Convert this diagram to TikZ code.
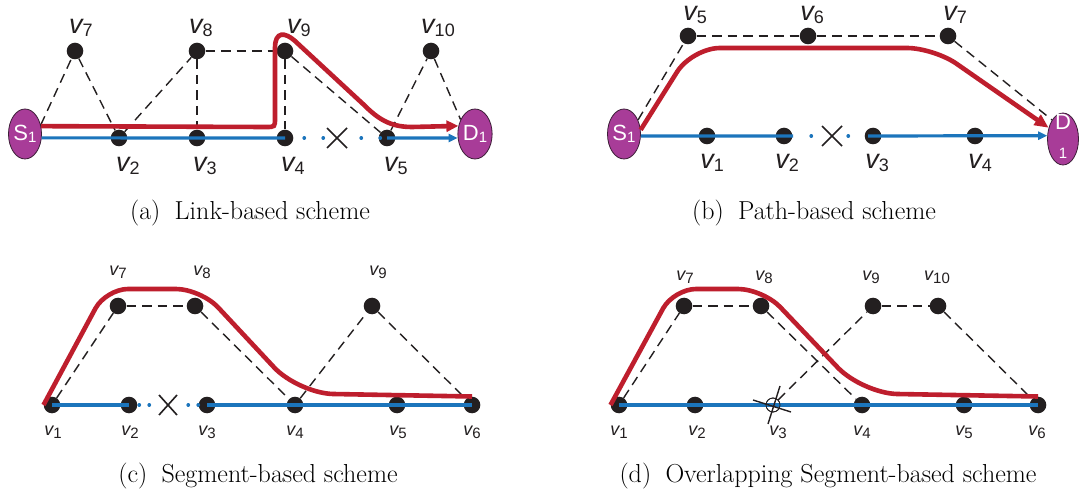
\documentclass[tikz,border=0pt]{standalone}
\usepackage{fontspec}
\newfontfamily\arialf{Liberation Sans}
\usetikzlibrary{arrows.meta,shapes.geometric}
\definecolor{pathred}{RGB}{190,30,45}
\definecolor{pathblue}{RGB}{28,117,188}
\definecolor{nodeblk}{RGB}{35,31,32}
\definecolor{epurple}{RGB}{168,60,152}
\definecolor{eborder}{RGB}{60,30,55}
\newcommand{\vA}[1]{{\fontsize{27}{27}\selectfont\itshape v}\raisebox{-2.7pt}{\fontsize{18}{18}\selectfont #1}}
\newcommand{\vC}[1]{{\fontsize{18}{18}\selectfont\itshape v}\raisebox{-3pt}{\fontsize{15}{15}\selectfont #1}}
\newcommand{\sdA}[2]{{\fontsize{22}{22}\selectfont #1}\raisebox{-1.7pt}{\fontsize{15}{15}\selectfont #2}}
\begin{document}
\begin{tikzpicture}[x=1pt,y=-1pt,
  vdot/.style={circle, fill=nodeblk, inner sep=0pt, minimum size=16.6pt},
  hollow/.style={circle, draw=nodeblk, line width=0.8pt, inner sep=0pt, minimum size=14pt},
  ell/.style={ellipse, draw=eborder, line width=0.8pt, fill=epurple, inner sep=0pt,
    minimum width=33pt, minimum height=50pt, text=white, font=\arialf},
  wtxt/.style={inner sep=0pt, text=white, font=\arialf},
  vlab/.style={inner sep=0pt, font=\arialf, text=nodeblk},
  dashedge/.style={nodeblk, line width=1.4pt, dash pattern=on 9.5pt off 6pt},
  redpath/.style={pathred, line width=4.6pt},
  bluepath/.style={pathblue, line width=3.2pt},
  bluedots/.style={pathblue, line width=3.2pt, line cap=round},
  xmk/.style={nodeblk, line width=1.6pt},
  captxt/.style={anchor=base, inner sep=0pt, font=\fontsize{26}{31}\selectfont},
  redtip/.style={-{Triangle[length=12pt,width=11pt]}},
  bluetip/.style={-{Triangle[length=9pt,width=8pt]}}
]
\fill[white] (0,0) rectangle (1079,494);
\useasboundingbox (0,0) rectangle (1079,494);

% ================= (a) =================
\node[ell] (S1a) at (25,134) {\sdA{S}{1}};
\node[ell] (D1a) at (475,134) {\sdA{D}{1}};
\node[vdot] (a2) at (119,138) {};
\node[vdot] (a3) at (197,138) {};
\node[vdot] (a4) at (285,138) {};
\node[vdot] (a5) at (387,138) {};
\node[vdot] (a7) at (75,51) {};
\node[vdot] (a8) at (197,51) {};
\node[vdot] (a9) at (285,51) {};
\node[vdot] (a10) at (431,51) {};
\node[vlab] (la7) at (81,28) {\vA{7}};
\node[vlab] (la8) at (201,28) {\vA{8}};
\node[vlab] (la9) at (299,28) {\vA{9}};
\node[vlab] (la10) at (438,28) {\vA{10}};
\node[vlab] (la2) at (128,166) {\vA{2}};
\node[vlab] (la3) at (205,166) {\vA{3}};
\node[vlab] (la4) at (293,166) {\vA{4}};
\node[vlab] (la5) at (396,166) {\vA{5}};
\coordinate (Xa) at (337,138);
\draw[dashedge] (S1a.30) -- (a7);
\draw[dashedge] (a7) -- (a2);
\draw[dashedge] (a2) -- (a8);
\draw[dashedge] (a8) -- (a3);
\draw[dashedge] (a8) -- (a9);
\draw[dashedge] (a9) -- (a4);
\draw[dashedge] (a9) -- (a5);
\draw[dashedge] (a5) -- (a10);
\draw[dashedge] (a10) -- (D1a.135);
\draw[bluepath] (S1a.-13) -- (a4.center);
\draw[bluedots, dash pattern=on 0.5pt off 18.5pt] ([xshift=19pt]a4.center) -- ([xshift=-10pt]Xa);
\draw[bluedots, dash pattern=on 0.5pt off 18.5pt] ([xshift=24pt]Xa) -- (a5.center);
\draw[bluepath, bluetip] (a5.center) -- (D1a.193);
\draw[xmk] ([shift={(-10,-10)}]Xa) -- ([shift={(10,10)}]Xa);
\draw[xmk] ([shift={(-10,10)}]Xa) -- ([shift={(10,-10)}]Xa);
\draw[redpath, redtip] (S1a.26) -- (266,127) .. controls (275,127) .. (275,118) -- (275,48)
  .. controls (275,31) and (285,32) .. (295,41)
  -- (363,104)
  .. controls (378,119) and (390,127) .. (412,127) -- (D1a.154);
\node[captxt] (capa) at (250,220) {(a)\hspace{0.55em}Link-based scheme};

% ================= (b) =================
\node[ell] (S1b) at (624,134) {\sdA{S}{1}};
\node[ell, minimum width=31pt, minimum height=52pt] (D1b) at (1063,139) {};
\node[wtxt] (D1bD) at (1063,122) {\fontsize{22}{22}\selectfont D};
\node[wtxt] (D1bn) at (1063,153) {\fontsize{15}{15}\selectfont 1};
\node[vdot] (b1) at (707,136) {};
\node[vdot] (b2) at (784,136) {};
\node[vdot] (b3) at (873,136) {};
\node[vdot] (b4) at (975,136) {};
\node[vdot] (b5) at (688,36) {};
\node[vdot] (b6) at (808,36) {};
\node[vdot] (b7) at (948,36) {};
\node[vlab] (lb5) at (695,15) {\vA{5}};
\node[vlab] (lb6) at (812,15) {\vA{6}};
\node[vlab] (lb7) at (955,15) {\vA{7}};
\node[vlab] (lb1) at (712,163) {\vA{1}};
\node[vlab] (lb2) at (787,163) {\vA{2}};
\node[vlab] (lb3) at (877,163) {\vA{3}};
\node[vlab] (lb4) at (980,163) {\vA{4}};
\coordinate (Xb) at (832,136);
\draw[dashedge] (S1b.45) -- (b5);
\draw[dashedge] (b5) -- (b6);
\draw[dashedge] (b6) -- (b7);
\draw[dashedge] (b7) -- (D1b.120);
\draw[bluepath] (S1b.-7) -- ([xshift=9pt]b2.center);
\draw[bluedots, dash pattern=on 0.5pt off 36.5pt] ([xshift=-21pt]Xb) -- ([xshift=19pt]Xb);
\draw[bluepath, bluetip] ([xshift=-5pt]b3.center) -- (D1b.168);
\draw[xmk] ([shift={(-10,-10)}]Xb) -- ([shift={(10,10)}]Xb);
\draw[xmk] ([shift={(-10,10)}]Xb) -- ([shift={(10,-10)}]Xb);
\draw[redpath, -{Triangle[length=14pt,width=12pt]}] (S1b.14) -- (677,72)
  .. controls (685.3,58.8) and (704.6,48) .. (720,48) -- (907,48)
  .. controls (922.4,48) and (945.2,55.4) .. (957.6,64.5) -- (D1b.142);
\node[captxt] (capb) at (814,220) {(b)\hspace{0.55em}Path-based scheme};

% ================= (c) =================
\node[vdot] (c1) at (52,405) {};
\node[vdot] (c2) at (129,405) {};
\node[vdot] (c3) at (207,405) {};
\node[vdot] (c4) at (295,405) {};
\node[vdot] (c5) at (397,405) {};
\node[vdot] (c6) at (472,405) {};
\node[vdot] (c7) at (118,306) {};
\node[vdot] (c8) at (195,306) {};
\node[vdot] (c9) at (372,306) {};
\node[vlab] (lc7) at (118,272) {\vC{7}};
\node[vlab] (lc8) at (202,272) {\vC{8}};
\node[vlab] (lc9) at (378,272) {\vC{9}};
\node[vlab] (lc1) at (53,432) {\vC{1}};
\node[vlab] (lc2) at (130,432) {\vC{2}};
\node[vlab] (lc3) at (207,432) {\vC{3}};
\node[vlab] (lc4) at (295,432) {\vC{4}};
\node[vlab] (lc5) at (398,432) {\vC{5}};
\node[vlab] (lc6) at (472,432) {\vC{6}};
\coordinate (Xc) at (168,405);
\draw[dashedge] (c1) -- (c7);
\draw[dashedge] (c7) -- (c8);
\draw[dashedge] (c8) -- (c4);
\draw[dashedge] (c4) -- (c9);
\draw[dashedge] (c9) -- (c6);
\draw[bluepath] (c1.center) -- (c2.center);
\draw[bluedots, dash pattern=on 0.5pt off 9.5pt] ([xshift=10pt]c2.center) -- ([xshift=-14pt]Xc);
\draw[bluedots, dash pattern=on 0.5pt off 9.5pt] ([xshift=20pt]Xc) -- (c3.center);
\draw[bluepath] (c3.center) -- (c6.center);
\draw[xmk] ([shift={(-9,-10)}]Xc) -- ([shift={(9,10)}]Xc);
\draw[xmk] ([shift={(-9,10)}]Xc) -- ([shift={(9,-10)}]Xc);
\draw[redpath] (c1.west) -- (95.5,308.3)
  .. controls (101.3,297.7) and (115.9,289) .. (128,289) -- (176,289)
  .. controls (189.75,289) and (208.6,297.2) .. (218,307.3) -- (274.1,367.4)
  .. controls (287.2,381.5) and (313.75,393.5) .. (333,394) -- (c6.north);
\node[captxt] (capc) at (258,482) {(c)\hspace{0.55em}Segment-based scheme};

% ================= (d) =================
\node[vdot] (d1) at (619,405) {};
\node[vdot] (d2) at (695,405) {};
\node[hollow] (d3) at (773,405) {};
\node[vdot] (d4) at (862,405) {};
\node[vdot] (d5) at (964,405) {};
\node[vdot] (d6) at (1038,405) {};
\node[vdot] (d7) at (684,306) {};
\node[vdot] (d8) at (761,306) {};
\node[vdot] (d9) at (873,306) {};
\node[vdot] (d10) at (938,306) {};
\node[vlab] (ld7) at (685,277) {\vC{7}};
\node[vlab] (ld8) at (764,277) {\vC{8}};
\node[vlab] (ld9) at (871,277) {\vC{9}};
\node[vlab] (ld10) at (937,277) {\vC{10}};
\node[vlab] (ld1) at (619,432) {\vC{1}};
\node[vlab] (ld2) at (697,432) {\vC{2}};
\node[vlab] (ld3) at (778,432) {\vC{3}};
\node[vlab] (ld4) at (862,432) {\vC{4}};
\node[vlab] (ld5) at (964,432) {\vC{5}};
\node[vlab] (ld6) at (1037,432) {\vC{6}};
\draw[dashedge] (d1) -- (d7);
\draw[dashedge] (d7) -- (d8);
\draw[dashedge] (d8) -- (d4);
\draw[dashedge] (d3) -- (d9);
\draw[dashedge] (d9) -- (d10);
\draw[dashedge] (d10) -- (d6);
\draw[bluepath] (d1.center) -- (d6.center);
\draw[nodeblk, line width=0.8pt] (d3) circle[radius=7pt];
\draw[xmk, line width=1.4pt] ([shift={(-5,19)}]d3.center) -- ([shift={(7,-19)}]d3.center);
\draw[xmk, line width=1.4pt] ([shift={(-20,-5)}]d3.center) -- ([shift={(18,7)}]d3.center);
\draw[redpath] (d1.west) -- (663.2,308.2)
  .. controls (669.1,297.6) and (683.9,289) .. (696,289) -- (738,289)
  .. controls (751.75,289) and (770.7,297.1) .. (780.2,307.1) -- (837.9,367.7)
  .. controls (851.2,381.6) and (877.75,393.5) .. (897,394) -- (d6.north);
\node[captxt] (capd) at (828,482) {(d)\hspace{0.55em}Overlapping Segment-based scheme};
\end{tikzpicture}
\end{document}
